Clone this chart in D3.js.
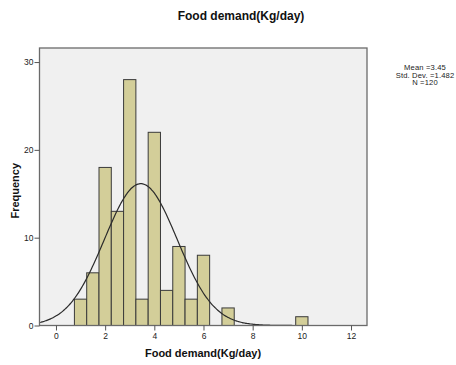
<!DOCTYPE html>
<html>
<head>
<meta charset="utf-8">
<script src="https://cdn.jsdelivr.net/npm/d3@7"></script>
<style>
  html, body { margin: 0; padding: 0; background: #fff; }
  svg { display: block; font-family: "Liberation Sans", Arial, sans-serif; }
</style>
</head>
<body>
<svg id="chart" width="456" height="365"></svg>
<script>
// Histogram bins (kg/day), bin width 0.5, and their counts
const binStarts = [0.75, 1.25, 1.75, 2.25, 2.75, 3.25, 3.75, 4.25, 4.75, 5.25, 5.75, 6.75, 9.75];
const counts    = [3, 6, 18, 13, 28, 3, 22, 4, 9, 3, 8, 2, 1];
const binWidth = 0.5;
const xTicks = [0, 2, 4, 6, 8, 10, 12];
const yTicks = [0, 10, 20, 30];
const stats = { mean: 3.45, sd: 1.482, n: 120 };
const statLines = ["Mean =3.45", "Std. Dev. =1.482", "N =120"];

const svg = d3.select("#chart");
const plot = { left: 39.5, top: 48, right: 367, bottom: 325.5 };

const x = d3.scaleLinear().domain([-0.67, 12.65]).range([plot.left, plot.right]);
const y = d3.scaleLinear().domain([0, 31.6]).range([plot.bottom, plot.top]);

// plot background
svg.append("rect")
  .attr("x", plot.left).attr("y", plot.top)
  .attr("width", plot.right - plot.left).attr("height", plot.bottom - plot.top)
  .attr("fill", "#f0f0f0");

svg.append("defs").append("clipPath").attr("id", "clip")
  .append("rect")
  .attr("x", plot.left).attr("y", plot.top)
  .attr("width", plot.right - plot.left).attr("height", plot.bottom - plot.top);

// bars
svg.append("g").selectAll("rect")
  .data(binStarts.map((s, i) => ({ s, c: counts[i] })))
  .join("rect")
  .attr("x", d => x(d.s))
  .attr("y", d => y(d.c))
  .attr("width", d => x(d.s + binWidth) - x(d.s))
  .attr("height", d => y(0) - y(d.c))
  .attr("fill", "#d3ce99")
  .attr("stroke", "#3a3a3a")
  .attr("stroke-width", 1);

// normal curve scaled to counts
const k = stats.n * binWidth / (stats.sd * Math.sqrt(2 * Math.PI));
const pts = d3.range(-0.67, 12.66, 0.05).map(v => [v, k * Math.exp(-0.5 * ((v - stats.mean) / stats.sd) ** 2)]);
svg.append("path")
  .datum(pts)
  .attr("clip-path", "url(#clip)")
  .attr("fill", "none")
  .attr("stroke", "#2b2b2b")
  .attr("stroke-width", 1.2)
  .attr("d", d3.line().x(d => x(d[0])).y(d => y(d[1])).curve(d3.curveBasis));

// frame
svg.append("rect")
  .attr("x", plot.left).attr("y", plot.top)
  .attr("width", plot.right - plot.left).attr("height", plot.bottom - plot.top)
  .attr("fill", "none").attr("stroke", "#6a6a6a").attr("stroke-width", 1.3);

// axes
const xAxis = svg.append("g")
  .attr("transform", `translate(0,${plot.bottom})`)
  .call(d3.axisBottom(x).tickValues(xTicks).tickSize(5).tickPadding(2).tickFormat(d3.format("d")));
const yAxis = svg.append("g")
  .attr("transform", `translate(${plot.left},0)`)
  .call(d3.axisLeft(y).tickValues(yTicks).tickSize(5).tickPadding(1).tickFormat(d3.format("d")));
[xAxis, yAxis].forEach(a => {
  a.select(".domain").remove();
  a.selectAll(".tick line").attr("stroke", "#555");
  a.selectAll(".tick text").attr("fill", "#222").style("font-size", "8.5px");
});

// titles
svg.append("text")
  .attr("x", 241).attr("y", 20)
  .attr("text-anchor", "middle")
  .style("font-size", "12px").style("font-weight", "bold")
  .attr("fill", "#111")
  .text("Food demand(Kg/day)");

svg.append("text")
  .attr("x", 203).attr("y", 357)
  .attr("text-anchor", "middle")
  .style("font-size", "11px").style("font-weight", "bold")
  .attr("fill", "#111")
  .text("Food demand(Kg/day)");

svg.append("text")
  .attr("transform", `translate(19,${(plot.top + plot.bottom) / 2 + 4}) rotate(-90)`)
  .attr("text-anchor", "middle")
  .style("font-size", "11px").style("font-weight", "bold")
  .attr("fill", "#111")
  .text("Frequency");

// summary statistics
svg.append("g").selectAll("text")
  .data(statLines)
  .join("text")
  .attr("x", 425)
  .attr("y", (d, i) => 70 + i * 7.6)
  .attr("text-anchor", "middle")
  .style("font-size", "7.6px")
  .style("letter-spacing", "0.15px")
  .attr("fill", "#222")
  .text(d => d);
</script>
</body>
</html>
